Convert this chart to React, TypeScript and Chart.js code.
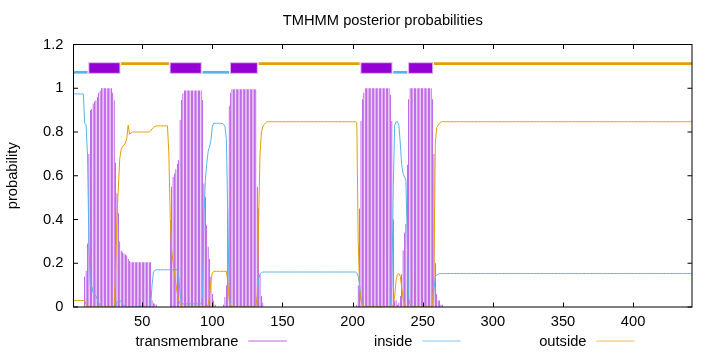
import { useEffect, useRef } from "react";
import { Chart, registerables } from "chart.js";

Chart.register(...registerables);

// ---------- data (per residue, 1..442) ----------
const tmProb = [
  0, 0, 0, 0, 0, 0, 0, 0, 0.14, 0.165, // 1-10
  0.29, 0.7, 0.9, 0.905, 0.93, 0.94, 0.945, 0.96, 0.98, 0.99, // 11-20
  1, 1, 1, 1, 1, 1, 1, 1, 0.98, 0.945, // 21-30
  0.66, 0.52, 0.43, 0.3, 0.257, 0.25, 0.245, 0.24, 0.235, 0.22, // 31-40
  0.21, 0.205, 0.205, 0.205, 0.205, 0.205, 0.205, 0.205, 0.205, 0.205, // 41-50
  0.205, 0.205, 0.205, 0.205, 0.205, 0.205, 0.03, 0.017, 0.015, 0.01, // 51-60
  0, 0, 0, 0, 0, 0, 0, 0, 0, 0.397, // 61-70
  0.55, 0.595, 0.61, 0.63, 0.655, 0.672, 0.855, 0.946, 0.977, 0.99, // 71-80
  0.99, 0.99, 0.99, 0.99, 0.99, 0.99, 0.99, 0.99, 0.99, 0.99, // 81-90
  0.99, 0.99, 0.946, 0.565, 0.504, 0.374, 0.275, 0.22, 0.138, 0.06, // 91-100
  0.03, 0.01, 0, 0, 0, 0, 0, 0.01, 0.046, 0.1, // 101-110
  0.45, 0.92, 0.98, 0.995, 0.995, 0.995, 0.995, 0.995, 0.995, 0.995, // 111-120
  0.995, 0.995, 0.995, 0.995, 0.995, 0.995, 0.995, 0.995, 0.995, 0.995, // 121-130
  0.995, 0.55, 0.45, 0.15, 0.05, 0.02, 0, 0, 0, 0, // 131-140
  0, 0, 0, 0, 0, 0, 0, 0, 0, 0, // 141-150
  0, 0, 0, 0, 0, 0, 0, 0, 0, 0, // 151-160
  0, 0, 0, 0, 0, 0, 0, 0, 0, 0, // 161-170
  0, 0, 0, 0, 0, 0, 0, 0, 0, 0, // 171-180
  0, 0, 0, 0, 0, 0, 0, 0, 0, 0, // 181-190
  0, 0, 0, 0, 0, 0, 0, 0, 0, 0, // 191-200
  0, 0, 0.01, 0.1, 0.45, 0.85, 0.95, 0.98, 1, 1, // 201-210
  1, 1, 1, 1, 1, 1, 1, 1, 1, 1, // 211-220
  1, 1, 1, 1, 1, 1, 0.97, 0.85, 0.4, 0.03, // 221-230
  0.03, 0.01, 0.02, 0.05, 0.15, 0.26, 0.34, 0.38, 0.65, 0.95, // 231-240
  1, 1, 1, 1, 1, 1, 1, 1, 1, 1, // 241-250
  1, 1, 1, 1, 1, 1, 0.95, 0.7, 0.2, 0.06, // 251-260
  0.03, 0.03, 0.01, 0.01, 0, 0, 0, 0, 0, 0, // 261-270
  0, 0, 0, 0, 0, 0, 0, 0, 0, 0, // 271-280
  0, 0, 0, 0, 0, 0, 0, 0, 0, 0, // 281-290
  0, 0, 0, 0, 0, 0, 0, 0, 0, 0, // 291-300
  0, 0, 0, 0, 0, 0, 0, 0, 0, 0, // 301-310
  0, 0, 0, 0, 0, 0, 0, 0, 0, 0, // 311-320
  0, 0, 0, 0, 0, 0, 0, 0, 0, 0, // 321-330
  0, 0, 0, 0, 0, 0, 0, 0, 0, 0, // 331-340
  0, 0, 0, 0, 0, 0, 0, 0, 0, 0, // 341-350
  0, 0, 0, 0, 0, 0, 0, 0, 0, 0, // 351-360
  0, 0, 0, 0, 0, 0, 0, 0, 0, 0, // 361-370
  0, 0, 0, 0, 0, 0, 0, 0, 0, 0, // 371-380
  0, 0, 0, 0, 0, 0, 0, 0, 0, 0, // 381-390
  0, 0, 0, 0, 0, 0, 0, 0, 0, 0, // 391-400
  0, 0, 0, 0, 0, 0, 0, 0, 0, 0, // 401-410
  0, 0, 0, 0, 0, 0, 0, 0, 0, 0, // 411-420
  0, 0, 0, 0, 0, 0, 0, 0, 0, 0, // 421-430
  0, 0, 0, 0, 0, 0, 0, 0, 0, 0, // 431-440
  0, 0, // 441-442
];

const insideProb = [
  0.974, 0.974, 0.974, 0.974, 0.974, 0.974, 0.974, 0.974, 0.84, 0.832, // 1-10
  0.69, 0.29, 0.1, 0.095, 0.065, 0.06, 0.05, 0.035, 0.02, 0.005, // 11-20
  0, 0, 0, 0, 0, 0, 0, 0, 0, 0, // 21-30
  0, 0.02, 0.03, 0.03, 0.025, 0.015, 0.005, 0, 0, 0, // 31-40
  0, 0, 0, 0, 0, 0, 0, 0, 0, 0, // 41-50
  0, 0, 0, 0, 0, 0, 0.1, 0.16, 0.168, 0.17, // 51-60
  0.17, 0.17, 0.17, 0.17, 0.17, 0.17, 0.17, 0.17, 0.17, 0.17, // 61-70
  0.17, 0.17, 0.17, 0.17, 0.17, 0.14, 0.06, 0.02, 0.014, 0.014, // 71-80
  0.014, 0.014, 0.014, 0.014, 0.014, 0.014, 0.014, 0.014, 0.014, 0.014, // 81-90
  0.014, 0.014, 0.05, 0.4, 0.58, 0.657, 0.71, 0.733, 0.763, 0.824, // 91-100
  0.84, 0.84, 0.84, 0.84, 0.84, 0.84, 0.84, 0.835, 0.825, 0.77, // 101-110
  0.42, 0.05, 0.01, 0, 0, 0, 0, 0, 0, 0, // 111-120
  0, 0, 0, 0, 0, 0, 0, 0, 0, 0, // 121-130
  0, 0.05, 0.13, 0.15, 0.157, 0.16, 0.16, 0.16, 0.16, 0.16, // 131-140
  0.16, 0.16, 0.16, 0.16, 0.16, 0.16, 0.16, 0.16, 0.16, 0.16, // 141-150
  0.16, 0.16, 0.16, 0.16, 0.16, 0.16, 0.16, 0.16, 0.16, 0.16, // 151-160
  0.16, 0.16, 0.16, 0.16, 0.16, 0.16, 0.16, 0.16, 0.16, 0.16, // 161-170
  0.16, 0.16, 0.16, 0.16, 0.16, 0.16, 0.16, 0.16, 0.16, 0.16, // 171-180
  0.16, 0.16, 0.16, 0.16, 0.16, 0.16, 0.16, 0.16, 0.16, 0.16, // 181-190
  0.16, 0.16, 0.16, 0.16, 0.16, 0.16, 0.16, 0.16, 0.16, 0.16, // 191-200
  0.16, 0.16, 0.155, 0.14, 0.1, 0.04, 0.01, 0, 0, 0, // 201-210
  0, 0, 0, 0, 0, 0, 0, 0, 0, 0, // 211-220
  0, 0, 0, 0, 0, 0, 0, 0.1, 0.55, 0.83, // 221-230
  0.847, 0.847, 0.83, 0.75, 0.65, 0.61, 0.595, 0.58, 0.3, 0.04, // 231-240
  0.01, 0, 0, 0, 0, 0, 0, 0, 0, 0, // 241-250
  0, 0, 0, 0, 0, 0, 0.01, 0.08, 0.14, 0.146, // 251-260
  0.15, 0.152, 0.153, 0.153, 0.153, 0.153, 0.153, 0.153, 0.153, 0.153, // 261-270
  0.153, 0.153, 0.153, 0.153, 0.153, 0.153, 0.153, 0.153, 0.153, 0.153, // 271-280
  0.153, 0.153, 0.153, 0.153, 0.153, 0.153, 0.153, 0.153, 0.153, 0.153, // 281-290
  0.153, 0.153, 0.153, 0.153, 0.153, 0.153, 0.153, 0.153, 0.153, 0.153, // 291-300
  0.153, 0.153, 0.153, 0.153, 0.153, 0.153, 0.153, 0.153, 0.153, 0.153, // 301-310
  0.153, 0.153, 0.153, 0.153, 0.153, 0.153, 0.153, 0.153, 0.153, 0.153, // 311-320
  0.153, 0.153, 0.153, 0.153, 0.153, 0.153, 0.153, 0.153, 0.153, 0.153, // 321-330
  0.153, 0.153, 0.153, 0.153, 0.153, 0.153, 0.153, 0.153, 0.153, 0.153, // 331-340
  0.153, 0.153, 0.153, 0.153, 0.153, 0.153, 0.153, 0.153, 0.153, 0.153, // 341-350
  0.153, 0.153, 0.153, 0.153, 0.153, 0.153, 0.153, 0.153, 0.153, 0.153, // 351-360
  0.153, 0.153, 0.153, 0.153, 0.153, 0.153, 0.153, 0.153, 0.153, 0.153, // 361-370
  0.153, 0.153, 0.153, 0.153, 0.153, 0.153, 0.153, 0.153, 0.153, 0.153, // 371-380
  0.153, 0.153, 0.153, 0.153, 0.153, 0.153, 0.153, 0.153, 0.153, 0.153, // 381-390
  0.153, 0.153, 0.153, 0.153, 0.153, 0.153, 0.153, 0.153, 0.153, 0.153, // 391-400
  0.153, 0.153, 0.153, 0.153, 0.153, 0.153, 0.153, 0.153, 0.153, 0.153, // 401-410
  0.153, 0.153, 0.153, 0.153, 0.153, 0.153, 0.153, 0.153, 0.153, 0.153, // 411-420
  0.153, 0.153, 0.153, 0.153, 0.153, 0.153, 0.153, 0.153, 0.153, 0.153, // 421-430
  0.153, 0.153, 0.153, 0.153, 0.153, 0.153, 0.153, 0.153, 0.153, 0.153, // 431-440
  0.153, 0.153, // 441-442
];

const outsideProb = [
  0.03, 0.03, 0.03, 0.03, 0.03, 0.03, 0.03, 0.03, 0.03, 0.01, // 1-10
  0.005, 0, 0, 0, 0, 0, 0, 0, 0, 0, // 11-20
  0, 0, 0, 0, 0, 0, 0, 0, 0, 0, // 21-30
  0.15, 0.41, 0.55, 0.68, 0.72, 0.735, 0.74, 0.75, 0.77, 0.832, // 31-40
  0.79, 0.795, 0.8, 0.8, 0.8, 0.8, 0.8, 0.8, 0.8, 0.8, // 41-50
  0.8, 0.8, 0.8, 0.8, 0.8, 0.805, 0.815, 0.82, 0.825, 0.828, // 51-60
  0.828, 0.828, 0.828, 0.828, 0.828, 0.828, 0.828, 0.828, 0.7, 0.4, // 61-70
  0.26, 0.206, 0.153, 0.107, 0.062, 0.03, 0.016, 0.005, 0, 0, // 71-80
  0, 0, 0, 0, 0, 0, 0, 0, 0, 0, // 81-90
  0, 0, 0, 0, 0, 0, 0.01, 0.05, 0.12, 0.155, // 91-100
  0.163, 0.163, 0.163, 0.163, 0.163, 0.163, 0.163, 0.163, 0.163, 0.163, // 101-110
  0.12, 0.03, 0, 0, 0, 0, 0, 0, 0, 0, // 111-120
  0, 0, 0, 0, 0, 0, 0, 0, 0, 0, // 121-130
  0, 0.05, 0.4, 0.7, 0.8, 0.825, 0.835, 0.842, 0.847, 0.847, // 131-140
  0.847, 0.847, 0.847, 0.847, 0.847, 0.847, 0.847, 0.847, 0.847, 0.847, // 141-150
  0.847, 0.847, 0.847, 0.847, 0.847, 0.847, 0.847, 0.847, 0.847, 0.847, // 151-160
  0.847, 0.847, 0.847, 0.847, 0.847, 0.847, 0.847, 0.847, 0.847, 0.847, // 161-170
  0.847, 0.847, 0.847, 0.847, 0.847, 0.847, 0.847, 0.847, 0.847, 0.847, // 171-180
  0.847, 0.847, 0.847, 0.847, 0.847, 0.847, 0.847, 0.847, 0.847, 0.847, // 181-190
  0.847, 0.847, 0.847, 0.847, 0.847, 0.847, 0.847, 0.847, 0.847, 0.847, // 191-200
  0.847, 0.847, 0.843, 0.3, 0.08, 0.03, 0.01, 0, 0, 0, // 201-210
  0, 0, 0, 0, 0, 0, 0, 0, 0, 0, // 211-220
  0, 0, 0, 0, 0, 0, 0, 0, 0.01, 0.05, // 221-230
  0.12, 0.15, 0.153, 0.14, 0.09, 0.04, 0.01, 0, 0, 0, // 231-240
  0, 0, 0, 0, 0, 0, 0, 0, 0, 0, // 241-250
  0, 0, 0, 0, 0, 0, 0.01, 0.15, 0.75, 0.82, // 251-260
  0.83, 0.84, 0.847, 0.847, 0.847, 0.847, 0.847, 0.847, 0.847, 0.847, // 261-270
  0.847, 0.847, 0.847, 0.847, 0.847, 0.847, 0.847, 0.847, 0.847, 0.847, // 271-280
  0.847, 0.847, 0.847, 0.847, 0.847, 0.847, 0.847, 0.847, 0.847, 0.847, // 281-290
  0.847, 0.847, 0.847, 0.847, 0.847, 0.847, 0.847, 0.847, 0.847, 0.847, // 291-300
  0.847, 0.847, 0.847, 0.847, 0.847, 0.847, 0.847, 0.847, 0.847, 0.847, // 301-310
  0.847, 0.847, 0.847, 0.847, 0.847, 0.847, 0.847, 0.847, 0.847, 0.847, // 311-320
  0.847, 0.847, 0.847, 0.847, 0.847, 0.847, 0.847, 0.847, 0.847, 0.847, // 321-330
  0.847, 0.847, 0.847, 0.847, 0.847, 0.847, 0.847, 0.847, 0.847, 0.847, // 331-340
  0.847, 0.847, 0.847, 0.847, 0.847, 0.847, 0.847, 0.847, 0.847, 0.847, // 341-350
  0.847, 0.847, 0.847, 0.847, 0.847, 0.847, 0.847, 0.847, 0.847, 0.847, // 351-360
  0.847, 0.847, 0.847, 0.847, 0.847, 0.847, 0.847, 0.847, 0.847, 0.847, // 361-370
  0.847, 0.847, 0.847, 0.847, 0.847, 0.847, 0.847, 0.847, 0.847, 0.847, // 371-380
  0.847, 0.847, 0.847, 0.847, 0.847, 0.847, 0.847, 0.847, 0.847, 0.847, // 381-390
  0.847, 0.847, 0.847, 0.847, 0.847, 0.847, 0.847, 0.847, 0.847, 0.847, // 391-400
  0.847, 0.847, 0.847, 0.847, 0.847, 0.847, 0.847, 0.847, 0.847, 0.847, // 401-410
  0.847, 0.847, 0.847, 0.847, 0.847, 0.847, 0.847, 0.847, 0.847, 0.847, // 411-420
  0.847, 0.847, 0.847, 0.847, 0.847, 0.847, 0.847, 0.847, 0.847, 0.847, // 421-430
  0.847, 0.847, 0.847, 0.847, 0.847, 0.847, 0.847, 0.847, 0.847, 0.847, // 431-440
  0.847, 0.847, // 441-442
];

const residues = tmProb.map((_, i) => i + 1);

// predicted topology (top bar)
const topoType = ["inside", "TM", "outside", "TM", "inside", "TM", "outside", "TM", "inside", "TM", "outside"];
const topoStart = [1, 12, 35, 70, 93, 113, 133, 206, 229, 240, 258];
const topoEnd = [11, 34, 69, 92, 112, 132, 205, 228, 239, 257, 442];

const xTickValues = [50, 100, 150, 200, 250, 300, 350, 400];
const yTickValues = [0, 0.2, 0.4, 0.6, 0.8, 1, 1.2];
const yTickLabels = ["0", "0.2", "0.4", "0.6", "0.8", "1", "1.2"];

const titleText = "TMHMM posterior probabilities";
const yAxisLabel = "probability";
const legendLabels = ["transmembrane", "inside", "outside"];

const C_TM = "#9400D3";
const C_IN = "#56B4E9";
const C_OUT = "#E69F00";
const FONT = '"Liberation Sans", Arial, sans-serif';
const FS = 14.7;

const gnuplotPlugin = {
  id: "gnuplotDecor",
  afterDatasetsDraw(chart: any) {
    const { ctx, chartArea: a, scales } = chart;
    const xs = scales.x;
    const ys = scales.y;
    ctx.save();
    // topology bar
    for (let i = 0; i < topoType.length; i++) {
      const x1 = xs.getPixelForValue(topoStart[i]);
      const x2 = xs.getPixelForValue(topoEnd[i]);
      if (topoType[i] === "TM") {
        const yt = ys.getPixelForValue(1.119);
        const yb = ys.getPixelForValue(1.0655);
        ctx.fillStyle = "#dcaff0";
        ctx.fillRect(x1 - 0.6, yt, x2 - x1 + 1.2, yb - yt);
        const yt2 = ys.getPixelForValue(1.1145);
        const yb2 = ys.getPixelForValue(1.0705);
        ctx.fillStyle = C_TM;
        ctx.fillRect(x1 + 0.4, yt2, x2 - x1 - 0.8, yb2 - yt2);
      } else {
        const v = topoType[i] === "inside" ? 1.073 : 1.1125;
        const y = ys.getPixelForValue(v);
        ctx.strokeStyle = topoType[i] === "inside" ? C_IN : C_OUT;
        ctx.lineWidth = 2.7;
        ctx.lineCap = "butt";
        ctx.beginPath();
        ctx.moveTo(x1, y);
        ctx.lineTo(x2, y);
        ctx.stroke();
      }
    }
    // border
    ctx.strokeStyle = "#000";
    ctx.lineWidth = 1;
    ctx.strokeRect(a.left, a.top, a.right - a.left, a.bottom - a.top);
    // tick marks (inward, mirrored)
    const tl = 4.5;
    ctx.beginPath();
    for (const v of xTickValues) {
      const x = Math.round(xs.getPixelForValue(v)) + 0.5;
      ctx.moveTo(x, a.bottom);
      ctx.lineTo(x, a.bottom - tl);
      ctx.moveTo(x, a.top);
      ctx.lineTo(x, a.top + tl);
    }
    for (const v of yTickValues) {
      const y = ys.getPixelForValue(v);
      ctx.moveTo(a.left, y);
      ctx.lineTo(a.left + tl, y);
      ctx.moveTo(a.right, y);
      ctx.lineTo(a.right - tl, y);
    }
    ctx.stroke();
    ctx.restore();
  },
  afterDraw(chart: any) {
    const { ctx, chartArea: a } = chart;
    ctx.save();
    ctx.fillStyle = "#000";
    ctx.font = `${FS}px ${FONT}`;
    // title
    ctx.textAlign = "center";
    ctx.textBaseline = "alphabetic";
    ctx.fillText(titleText, (a.left + a.right) / 2, 25);
    // y label
    ctx.save();
    ctx.translate(13, (a.top + a.bottom) / 2);
    ctx.rotate(-Math.PI / 2);
    ctx.textAlign = "center";
    ctx.textBaseline = "middle";
    ctx.fillText(yAxisLabel, 0, 0);
    ctx.restore();
    // legend
    const textRight = [238.3, 412.3, 586.5];
    const sampleL = [248.3, 422.3, 596.3];
    const colors = ["rgba(148,0,211,0.6)", "rgba(86,180,233,0.75)", "rgba(230,159,0,0.7)"];
    for (let i = 0; i < legendLabels.length; i++) {
      ctx.fillStyle = "#000";
      ctx.textAlign = "right";
      ctx.textBaseline = "alphabetic";
      ctx.fillText(legendLabels[i], textRight[i], 346);
      ctx.strokeStyle = colors[i];
      ctx.lineWidth = 1;
      ctx.beginPath();
      ctx.moveTo(sampleL[i], 341);
      ctx.lineTo(sampleL[i] + 38.5, 341);
      ctx.stroke();
    }
    ctx.restore();
  },
};

export default function App() {
  const ref = useRef<HTMLCanvasElement | null>(null);
  useEffect(() => {
    if (!ref.current) return;
    Chart.defaults.font.family = FONT;
    Chart.defaults.font.size = FS;
    Chart.defaults.color = "#000";
    const chart = new Chart(ref.current, {
      type: "bar",
      data: {
        datasets: [
          {
            type: "line",
            label: "outside",
            data: outsideProb.map((y, i) => ({ x: residues[i], y })),
            borderColor: C_OUT,
            borderWidth: 1,
            pointRadius: 0,
            tension: 0,
            order: 1,
          } as any,
          {
            type: "line",
            label: "inside",
            data: insideProb.map((y, i) => ({ x: residues[i], y })),
            borderColor: C_IN,
            borderWidth: 1,
            pointRadius: 0,
            tension: 0,
            order: 2,
          } as any,
          {
            type: "bar",
            label: "transmembrane",
            data: tmProb.map((y, i) => ({ x: residues[i], y })),
            backgroundColor: C_TM,
            borderWidth: 0,
            barThickness: 0.58,
            inflateAmount: 0,
            order: 3,
          } as any,
        ],
      },
      options: {
        animation: false,
        responsive: false,
        devicePixelRatio: 1,
        events: [],
        layout: { padding: { left: 0, right: 28, top: 44.5, bottom: 0 } },
        plugins: {
          legend: { display: false },
          title: { display: false },
          tooltip: { enabled: false },
        },
        scales: {
          x: {
            type: "linear",
            min: 1,
            max: 442,
            offset: false,
            grid: { display: false, drawTicks: false },
            border: { display: false },
            ticks: { padding: 6, autoSkip: false, maxRotation: 0, color: "#000" },
            afterBuildTicks: (s: any) => {
              s.ticks = xTickValues.map((v) => ({ value: v }));
            },
            afterFit: (s: any) => {
              s.height = 45;
            },
          },
          y: {
            type: "linear",
            min: 0,
            max: 1.2,
            grid: { display: false, drawTicks: false },
            border: { display: false },
            ticks: {
              padding: 10,
              color: "#000",
              callback: (_v: any, idx: number) => yTickLabels[idx],
            },
            afterBuildTicks: (s: any) => {
              s.ticks = yTickValues.map((v) => ({ value: v }));
            },
            afterFit: (s: any) => {
              s.width = 73.5;
            },
          },
        },
      } as any,
      plugins: [gnuplotPlugin],
    });
    return () => chart.destroy();
  }, []);
  return (
    <div style={{ position: "fixed", left: 0, top: 0, width: 720, height: 352, background: "#fff" }}>
      <canvas ref={ref} width={720} height={352} style={{ display: "block", width: 720, height: 352 }} />
    </div>
  );
}
